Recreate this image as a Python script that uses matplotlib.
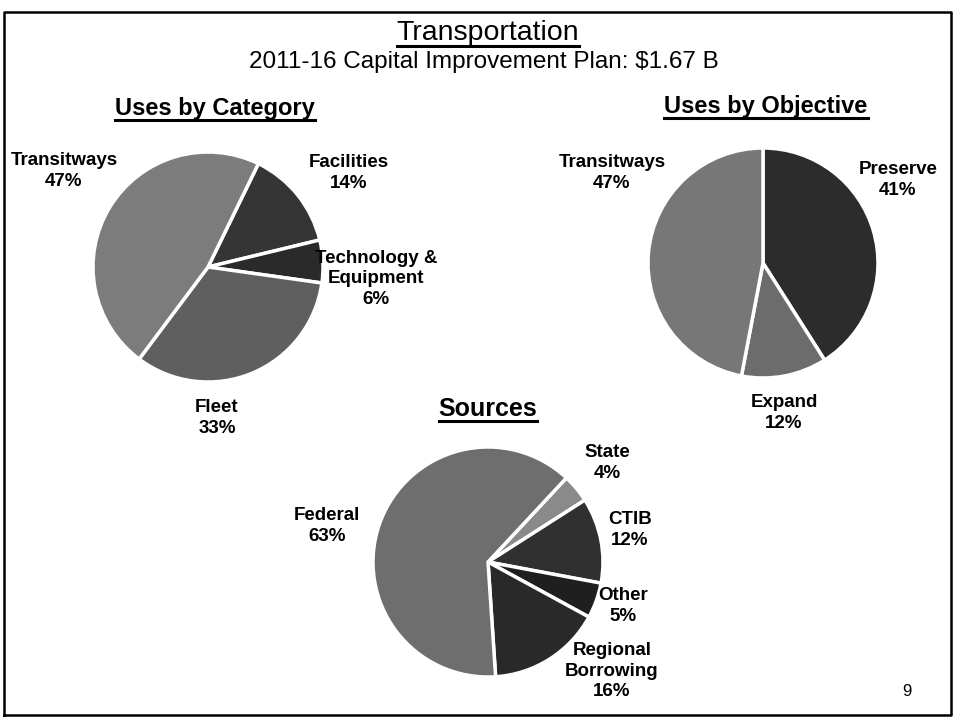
import matplotlib
matplotlib.use("Agg")
import matplotlib.pyplot as plt

plt.rcParams['font.family'] = ['Liberation Sans', 'DejaVu Sans']

W, H = 954, 727

# data
cat_labels = ["Facilities", "Technology &\nEquipment", "Fleet", "Transitways"]
cat_values = [14, 6, 33, 47]
cat_colors = ["#353535", "#2a2a2a", "#5f5f5f", "#7c7c7c"]

obj_labels = ["Preserve", "Expand", "Transitways"]
obj_values = [41, 12, 47]
obj_colors = ["#2c2c2c", "#6c6c6c", "#777777"]

src_labels = ["State", "CTIB", "Other", "Regional\nBorrowing", "Federal"]
src_values = [4, 12, 5, 16, 63]
src_colors = ["#8a8a8a", "#303030", "#1f1f1f", "#292929", "#6e6e6e"]


def img(x, y):
    # image pixel coords (y down) -> axes coords (y up)
    return x, H - y


fig = plt.figure(figsize=(W / 100, H / 100), dpi=100)
ax = fig.add_axes([0, 0, 1, 1])

wedge_style = dict(edgecolor="white", linewidth=2.5)
ax.pie(cat_values, colors=cat_colors, startangle=64, counterclock=False,
       center=img(208, 267), radius=115, wedgeprops=wedge_style, frame=True)
ax.pie(obj_values, colors=obj_colors, startangle=90, counterclock=False,
       center=img(763, 263), radius=115, wedgeprops=wedge_style, frame=True)
ax.pie(src_values, colors=src_colors, startangle=47, counterclock=False,
       center=img(488, 562), radius=115, wedgeprops=wedge_style, frame=True)
ax.set_xlim(0, W)
ax.set_ylim(0, H)
ax.set_aspect('equal')
ax.axis('off')

lab = dict(fontsize=13.5, fontweight="bold", ha="center", va="center", linespacing=1.25)


def label(x, y, name, val):
    ax.text(*img(x, y), f"{name}\n{val}%", **lab)


label(64, 171, "Transitways", cat_values[3])
label(349, 173, cat_labels[0], cat_values[0])
label(376, 279, cat_labels[1], cat_values[1])
label(217, 418, cat_labels[2], cat_values[2])

label(612, 173, obj_labels[2], obj_values[2])
label(898, 180, obj_labels[0], obj_values[0])
label(784, 413, obj_labels[1], obj_values[1])

label(327, 526, src_labels[4], src_values[4])
label(607, 463, src_labels[0], src_values[0])
label(630, 530, src_labels[1], src_values[1])
label(623, 606, src_labels[2], src_values[2])
label(612, 671, src_labels[3], src_values[3])

# headings, placed by baseline
headings = [
    (488, 40, "Transportation", dict(fontsize=20.5)),
    (215, 115, "Uses by Category", dict(fontsize=17, fontweight="bold")),
    (766, 113, "Uses by Objective", dict(fontsize=17, fontweight="bold")),
    (488, 416, "Sources", dict(fontsize=18, fontweight="bold")),
]
head_texts = []
for x, y, s, kw in headings:
    head_texts.append(ax.text(*img(x, y), s, ha="center", va="baseline", **kw))

ax.text(*img(484, 68), "2011-16 Capital Improvement Plan: $1.67 B",
        fontsize=17.5, ha="center", va="baseline")
ax.text(*img(907, 692), "9", fontsize=12, ha="center", va="center")

# underline the headings
fig.canvas.draw()
inv = ax.transData.inverted()
for t in head_texts:
    bb = t.get_window_extent()
    (x0, y0), (x1, _) = inv.transform([[bb.x0, bb.y0], [bb.x1, bb.y1]])
    ax.plot([x0, x1], [y0, y0], color="black", linewidth=2.2)

# slide frame
fx0, fy0 = img(4, 715)
fx1, fy1 = img(951, 12)
ax.plot([fx0, fx0, fx1, fx1, fx0], [fy0, fy1, fy1, fy0, fy0], color="black", linewidth=1.8)

fig.savefig("out.png", dpi=100)
